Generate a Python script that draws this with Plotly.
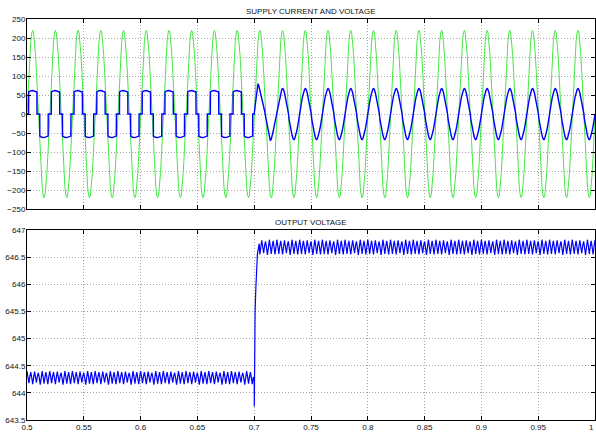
import numpy as np
import plotly.graph_objects as go
from plotly.subplots import make_subplots

# ---------------- data ----------------
t_start = 0.5
t_step = 0.7
t_end = 1.0
cycle_s = 0.02          # one supply cycle (50 Hz), 24 samples per cycle

# supply voltage, one cycle (24 samples)
supply_v_cycle = [0, 57, 110, 156, 191, 213, 220, 213, 191, 156, 110, 57,
                  0, -57, -110, -156, -191, -213, -220, -213, -191, -156, -110, -57]

# supply current before step: quasi-square blocks (phase in ms, value)
sq_phase_ms = [0.0, 1.4, 1.5, 3.0, 5.0, 7.0, 8.7, 8.8,
               11.2, 11.3, 13.0, 15.0, 17.0, 18.6, 18.7]
sq_values = [0, 0, 58, 61, 62, 60, 58, 0,
             0, -58, -61, -62, -60, -58, 0]

# supply current after step: first cycle and steady cycle (24 samples each)
i_first_cycle = [0, 22, 45, 66, 80, 73, 63, 54, 45, 34, 21, 8,
                 -6, -20, -35, -50, -62, -70, -66, -58, -46, -33, -20, -8]
i_steady_cycle = [-4, 16, 31, 45, 56, 63, 68, 64, 56, 44, 31, 12,
                  4, -16, -31, -45, -56, -64, -68, -63, -56, -44, -31, -12]

# output voltage ripple, one supply cycle (24 samples) before / after step
vdc_before_cycle = [644.40, 644.30, 644.18, 644.30, 644.38, 644.28, 644.16, 644.28,
                    644.39, 644.29, 644.19, 644.31, 644.37, 644.27, 644.15, 644.27,
                    644.40, 644.30, 644.17, 644.29, 644.38, 644.27, 644.16, 644.29]
vdc_after_cycle = [646.82, 646.70, 646.56, 646.70, 646.80, 646.68, 646.55, 646.69,
                   646.81, 646.69, 646.57, 646.71, 646.79, 646.67, 646.54, 646.68,
                   646.82, 646.70, 646.56, 646.70, 646.80, 646.68, 646.55, 646.69]

# output voltage transient at the step
step_t = [0.7000, 0.7001, 0.7004, 0.7008, 0.7014, 0.7020, 0.7028, 0.7036, 0.7044]
step_v = [644.25, 643.75, 644.80, 645.50, 645.90, 646.30, 646.55, 646.65, 646.75]

x_ticks = [0.5, 0.55, 0.6, 0.65, 0.7, 0.75, 0.8, 0.85, 0.9, 0.95, 1.0]
x_tick_text = ["0.5", "0.55", "0.6", "0.65", "0.7", "0.75", "0.8", "0.85", "0.9", "0.95", "1"]
top_y_ticks = [-250, -200, -150, -100, -50, 0, 50, 100, 150, 200, 250]
bot_y_ticks = [643.5, 644, 644.5, 645, 645.5, 646, 646.5, 647]
bot_y_text = ["643.5", "644", "644.5", "645", "645.5", "646", "646.5", "647"]

# ---------------- build series by tiling the read cycles ----------------
n_per = len(supply_v_cycle)
n_cycles = int(round((t_end - t_start) / cycle_s))
t_samples = t_start + np.arange(n_cycles * n_per + 1) * cycle_s / n_per
v_supply = np.concatenate([np.tile(supply_v_cycle, n_cycles), [supply_v_cycle[0]]])

n_before = int(round((t_step - t_start) / cycle_s))
t_sq = np.concatenate([t_start + k * cycle_s + np.array(sq_phase_ms) / 1000.0
                       for k in range(n_before)])
i_sq = np.tile(sq_values, n_before)
n_after = n_cycles - n_before
t_i_after = t_step + np.arange(n_after * n_per + 1) * cycle_s / n_per
i_after = np.concatenate([i_first_cycle, np.tile(i_steady_cycle, n_after - 1), [0]])
t_current = np.concatenate([t_sq, t_i_after])
i_current = np.concatenate([i_sq, i_after])

t_vb = t_start + np.arange(n_before * n_per) * cycle_s / n_per
v_b = np.tile(vdc_before_cycle, n_before)
t_va = t_step + np.arange(n_after * n_per + 1) * cycle_s / n_per
v_a = np.concatenate([np.tile(vdc_after_cycle, n_after), [vdc_after_cycle[0]]])
keep = t_va > step_t[-1]
t_vdc = np.concatenate([t_vb, step_t, t_va[keep]])
v_dc = np.concatenate([v_b, step_v, v_a[keep]])

# ---------------- figure ----------------
fig = make_subplots(rows=2, cols=1, vertical_spacing=0.052)
fig.add_trace(go.Scatter(x=t_samples, y=v_supply, mode="lines",
                         line=dict(color="#44e844", width=1)), row=1, col=1)
fig.add_trace(go.Scatter(x=t_current, y=i_current, mode="lines",
                         line=dict(color="#0000ff", width=1.4)), row=1, col=1)
fig.add_trace(go.Scatter(x=t_vdc, y=v_dc, mode="lines",
                         line=dict(color="#0000ff", width=1.2)), row=2, col=1)

font = dict(family="Liberation Sans, Arial, sans-serif", size=8, color="#111")
axis_common = dict(showline=True, linecolor="#000", linewidth=1, mirror="ticks",
                   ticks="inside", ticklen=4, tickcolor="#000",
                   showgrid=True, gridcolor="#a8a8a8", griddash="1px,2px", gridwidth=1,
                   zeroline=False, tickfont=font, automargin=False)

shown_x_text = x_tick_text[:-1] + [""]
fig.update_xaxes(range=[0.5, 1.0], tickvals=x_ticks, ticktext=shown_x_text,
                 ticklabelstandoff=-1, **axis_common)
fig.update_xaxes(showticklabels=False, row=1, col=1)
fig.update_yaxes(range=[-250, 250], tickvals=top_y_ticks, row=1, col=1,
                 ticklabelstandoff=-1, **axis_common)
fig.update_yaxes(range=[643.5, 647], tickvals=bot_y_ticks, ticktext=bot_y_text,
                 row=2, col=1, ticklabelstandoff=-1, **axis_common)
fig.update_layout(yaxis=dict(domain=[0.526, 1.0]), yaxis2=dict(domain=[0.0, 0.474]))

# last x tick label sits at the right edge of the page
fig.add_annotation(text=x_tick_text[-1], xref="x2", yref="paper", x=x_ticks[-1], y=0,
                   xanchor="right", yanchor="top", xshift=1, yshift=-1,
                   showarrow=False, font=font)

fig.add_annotation(text="SUPPLY CURRENT AND VOLTAGE", xref="paper", yref="paper",
                   x=0.5, y=1.0, yshift=1, showarrow=False, yanchor="bottom", font=font)
fig.add_annotation(text="OUTPUT VOLTAGE", xref="paper", yref="paper",
                   x=0.5, y=0.474, yshift=1, showarrow=False, yanchor="bottom", font=font)

fig.update_layout(width=596, height=433, showlegend=False,
                  margin=dict(l=27, r=1, t=19, b=13),
                  paper_bgcolor="white", plot_bgcolor="white")
fig.write_html("out.html", config={"displayModeBar": False},
               post_script="document.body.style.margin='0';document.body.style.overflow='hidden';")
